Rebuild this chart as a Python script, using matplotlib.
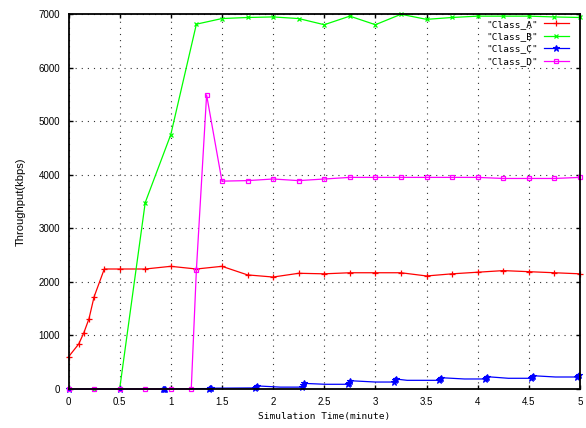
import numpy as np
import matplotlib
matplotlib.use("Agg")
import matplotlib.pyplot as plt

plt.rcParams["font.family"] = "Liberation Sans"
plt.rcParams["font.size"] = 7

# Class_A
time_a = [0, 0.1, 0.15, 0.2, 0.25, 0.35, 0.5, 0.75, 1.0, 1.25, 1.5, 1.75,
          2.0, 2.25, 2.5, 2.75, 3.0, 3.25, 3.5, 3.75, 4.0, 4.25, 4.5, 4.75, 5.0]
thr_a = [600, 840, 1050, 1310, 1720, 2240, 2240, 2240, 2290, 2240, 2290, 2130,
         2090, 2160, 2150, 2170, 2170, 2170, 2110, 2150, 2180, 2210, 2190, 2170, 2150]

# Class_B
time_b = [0, 0.25, 0.5, 0.75, 1.0, 1.25, 1.5, 1.75, 2.0, 2.25, 2.5, 2.75,
          3.0, 3.25, 3.5, 3.75, 4.0, 4.25, 4.5, 4.75, 5.0]
thr_b = [0, 0, 0, 3480, 4750, 6810, 6915, 6935, 6945, 6915, 6800, 6960,
         6800, 6995, 6900, 6935, 6960, 6960, 6960, 6945, 6935]

# Class_C (bursty updates)
time_c = [0, 0.5, 0.92, 0.93, 0.94, 1.37, 1.38, 1.39, 1.82, 1.83, 1.84, 2.07,
          2.28, 2.29, 2.30, 2.51, 2.73, 2.74, 2.75, 3.00, 3.18, 3.19, 3.20, 3.31,
          3.62, 3.63, 3.64, 3.87, 4.07, 4.08, 4.09, 4.30, 4.52, 4.53, 4.54, 4.76,
          4.97, 4.98, 4.99]
thr_c = [0, 0, 0, 2, 5, 8, 12, 15, 20, 40, 58, 35,
         35, 70, 105, 88, 88, 120, 155, 130, 130, 160, 186, 162,
         162, 190, 211, 187, 187, 210, 230, 200, 200, 225, 248, 224,
         224, 240, 255]
mark_c = [i for i, t in enumerate(time_c) if t not in (2.07, 2.51, 3.00, 3.31, 3.87, 4.30, 4.76)]

# Class_D
time_d = [0, 0.25, 0.5, 0.75, 1.0, 1.2, 1.25, 1.35, 1.5, 1.75, 2.0, 2.25,
          2.5, 2.75, 3.0, 3.25, 3.5, 3.75, 4.0, 4.25, 4.5, 4.75, 5.0]
thr_d = [0, 0, 0, 0, 0, 0, 2220, 5490, 3880, 3890, 3920, 3890,
         3920, 3950, 3950, 3950, 3950, 3950, 3950, 3930, 3930, 3930, 3950]

fig = plt.figure(figsize=(5.86, 4.28), dpi=100)
ax = fig.add_axes([68.5 / 586, 1 - 389 / 428, (580 - 68.5) / 586, (389 - 14) / 428])

ax.plot(time_a, thr_a, color="#ff0000", lw=0.9, marker="+", ms=4.5, mew=0.9,
        clip_on=False, label='"Class_A"')
ax.plot(time_b, thr_b, color="#00ff00", lw=0.9, marker="x", ms=3.5, mew=0.9,
        clip_on=False, label='"Class_B"')
ax.plot(time_c, thr_c, color="#0000ff", lw=0.9, marker="*", ms=4.5, mew=0.8,
        markevery=mark_c, clip_on=False, label='"Class_C"')
ax.plot(time_d, thr_d, color="#ff00ff", lw=0.9, marker="s", ms=3.5, mew=0.9,
        mfc="none", clip_on=False, label='"Class_D"')

ax.set_xlim(0, 5)
ax.set_ylim(0, 7000)
ax.set_xticks(np.arange(0, 5.01, 0.5))
ax.set_xticklabels(["0", "0.5", "1", "1.5", "2", "2.5", "3", "3.5", "4", "4.5", "5"])
ax.set_yticks(np.arange(0, 7001, 1000))
ax.tick_params(direction="in", length=3, width=1, top=True, right=True,
               labelsize=7, pad=6)
for s in ax.spines.values():
    s.set_linewidth(1.3)
ax.grid(True, color="#333333", lw=0.8, linestyle=(0, (1, 4.5)))

ax.set_xlabel("Simulation Time(minute)", family="DejaVu Sans Mono", fontsize=6.8,
              labelpad=3)
ax.set_ylabel("Throughput(kbps)", fontsize=8, labelpad=9)

leg = ax.legend(loc="upper right", bbox_to_anchor=(0.985, 0.995), frameon=False,
                markerfirst=False,
                prop={"family": "DejaVu Sans Mono", "size": 6.8},
                handlelength=2.6, labelspacing=0.36, borderaxespad=0,
                handletextpad=0.6, borderpad=0.4)
for t in leg.get_texts():
    t.set_ha("right")

fig.savefig("out.png", dpi=100)
